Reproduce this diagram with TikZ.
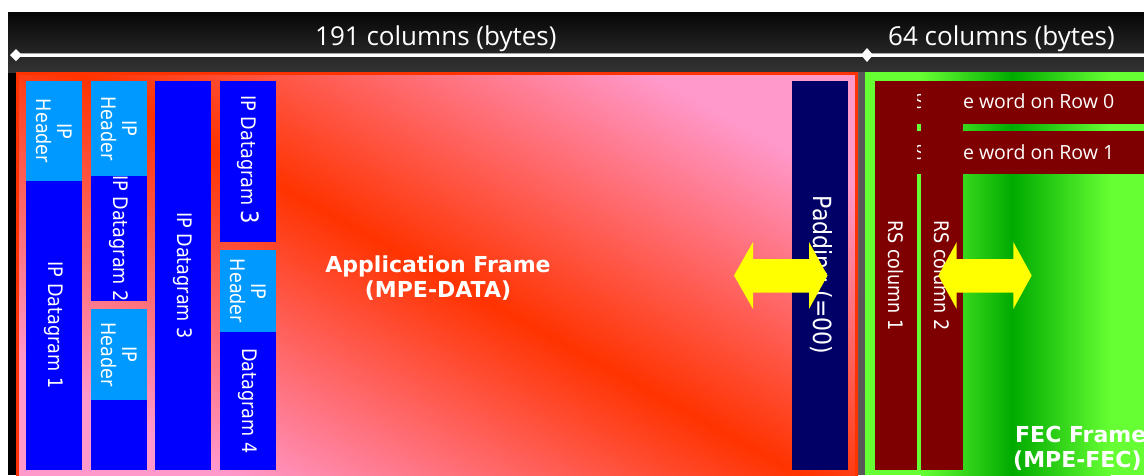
\documentclass[tikz,border=0pt]{standalone}
\usepackage{fontspec}
\setmainfont{DejaVu Sans}
\newfontfamily\tahfont[FakeStretch=0.88]{DejaVu Sans}
\newfontfamily\osfont{Open Sans}
\definecolor{lblue}{HTML}{0099FF}
\definecolor{dblue}{HTML}{0000FF}
\definecolor{navyc}{HTML}{000066}
\definecolor{maroonc}{HTML}{7F0000}
\definecolor{fred}{HTML}{FF3300}
\definecolor{fpink}{HTML}{FF99CC}
\definecolor{gbright}{HTML}{66FF33}
\definecolor{gdark}{HTML}{00AA00}
\definecolor{ayel}{HTML}{FFFF00}
\definecolor{gapgray}{HTML}{585858}
\definecolor{topdark}{HTML}{060606}
\definecolor{toplight}{HTML}{343434}
\begin{document}
\begin{tikzpicture}[x=1pt,y=-1pt,
  lbl/.style={text=white, inner sep=0pt, align=center, rotate=-90,
    font=\tahfont\fontsize{20}{21}\selectfont},
  padlbl/.style={text=white, inner sep=0pt, rotate=-90,
    font=\tahfont\fontsize{25}{26}\selectfont},
  rowlbl/.style={text=white, inner sep=0pt,
    font=\osfont\fontsize{19.5}{20}\selectfont},
  toplbl/.style={text=white, inner sep=0pt,
    font=\osfont\fontsize{26}{27}\selectfont},
  boldlbl/.style={text=white, inner sep=0pt,
    font=\bfseries\fontsize{22}{24}\selectfont},
  yarrow/.style={fill=ayel}
]
\useasboundingbox (0,0) rectangle (1144,475);
\clip (0,0) rectangle (1144,475);
% background
\fill[white] (0,0) rectangle (1144,475);
\fill[black] (8,12) rectangle (1144,475);
\shade[top color=topdark, bottom color=toplight] (8,12) rectangle (1144,72);
\fill[gapgray] (858,72) rectangle (865,475);
% dimension line
\coordinate (da) at (16,55);
\coordinate (db) at (867,55);
\coordinate (dend) at (1144,55);
\draw[gray!70, line width=1pt] ([yshift=2pt]da) -- ([yshift=2pt]dend);
\draw[white, line width=3pt] (da) -- (dend);
\fill[white] (10,55) -- (16,49) -- (22,55) -- (16,61) -- cycle;
\fill[white] (861,55) -- (867,48) -- (873,55) -- (867,62) -- cycle;
\node[toplbl, anchor=base west] (t191) at (315,45) {191 columns (bytes)};
\node[toplbl, anchor=base west] (t64) at (888,45.5) {64 columns (bytes)};
% application frame
\shade[left color=fpink, right color=fpink, middle color=fred, shading angle=-29]
  (16,72) rectangle (858,475);
\draw[fred, line width=3pt] (17.5,480) -- (17.5,73.5) -- (856.5,73.5) -- (856.5,480);
% FEC frame
\fill[gbright] (865,72) rectangle (921.5,475);
\shade[left color=gbright, right color=gdark] (921,72) rectangle (1012.5,475);
\shade[left color=gdark, right color=gbright] (1012,72) rectangle (1110.5,475);
\fill[gbright] (1110,72) rectangle (1144,475);
% IP datagrams
\fill[lblue] (26,81) rectangle (82,181);
\fill[dblue] (26,181) rectangle (82,470);
\fill[lblue] (91,81) rectangle (147,176);
\fill[dblue] (91,176) rectangle (147,301);
\fill[lblue] (91,309) rectangle (147,400);
\fill[dblue] (91,400) rectangle (147,470);
\fill[dblue] (155,81) rectangle (211,470);
\fill[dblue] (220,81) rectangle (276,242);
\fill[lblue] (220,250) rectangle (276,332);
\fill[dblue] (220,332) rectangle (276,470);
\node[lbl] (h1) at (54,131) {IP\\Header};
\node[lbl] (g1) at (54,325) {IP Datagram 1};
\node[lbl] (h2) at (119,128.5) {IP\\Header};
\node[lbl] (g2) at (119,238.5) {IP Datagram 2};
\node[lbl] (h2b) at (119,354.5) {IP\\Header};
\node[lbl] (g3) at (183,275.5) {IP Datagram 3};
\node[lbl] (g3b) at (248,160) {IP Datagram {\fontsize{24}{24}\selectfont 3}};
\node[lbl] (h4) at (248,291) {IP\\Header};
\node[lbl] (g4) at (248,401) {Datagram 4};
% padding
\fill[navyc] (792,81) rectangle (848,470);
\node[padlbl] (pad) at (820,275) {Padding (=00)};
% titles
\node[boldlbl, anchor=base] (af1) at (438,272) {Application Frame};
\node[boldlbl, anchor=base] (af2) at (438,297) {(MPE-DATA)};
% arrow 1
\fill[yarrow] (734,275.5) -- (753,242) -- (753,259) -- (809,259) -- (809,242)
  -- (827.5,275.5) -- (809,309) -- (809,292.5) -- (753,292.5) -- (753,309) -- cycle;
% RS rows
\fill[maroonc] (875,81) rectangle (1144,124);
\fill[maroonc] (875,131) rectangle (1144,174);
\node[rowlbl, anchor=base west] (row0) at (902,108) {RS code word on Row 0};
\node[rowlbl, anchor=base west] (row1) at (902,159) {RS code word on Row 1};
% RS columns
\fill[maroonc] (875,81) rectangle (917,470);
\fill[maroonc] (921,81) rectangle (963,470);
\node[lbl] (rs1) at (896,275.5) {RS column 1};
\node[lbl] (rs2) at (942,275.5) {RS column 2};
% arrow 2
\fill[yarrow] (938.3,275.5) -- (956.7,242) -- (956.7,259) -- (1013.3,259) -- (1013.3,242)
  -- (1031.7,275.5) -- (1013.3,309) -- (1013.3,292.5) -- (956.7,292.5) -- (956.7,309) -- cycle;
% FEC title
\node[boldlbl, anchor=base west] (ff1) at (1015,442) {FEC Frame};
\node[boldlbl, anchor=base west] (ff2) at (1013,467) {(MPE-FEC)};
\end{tikzpicture}
\end{document}
